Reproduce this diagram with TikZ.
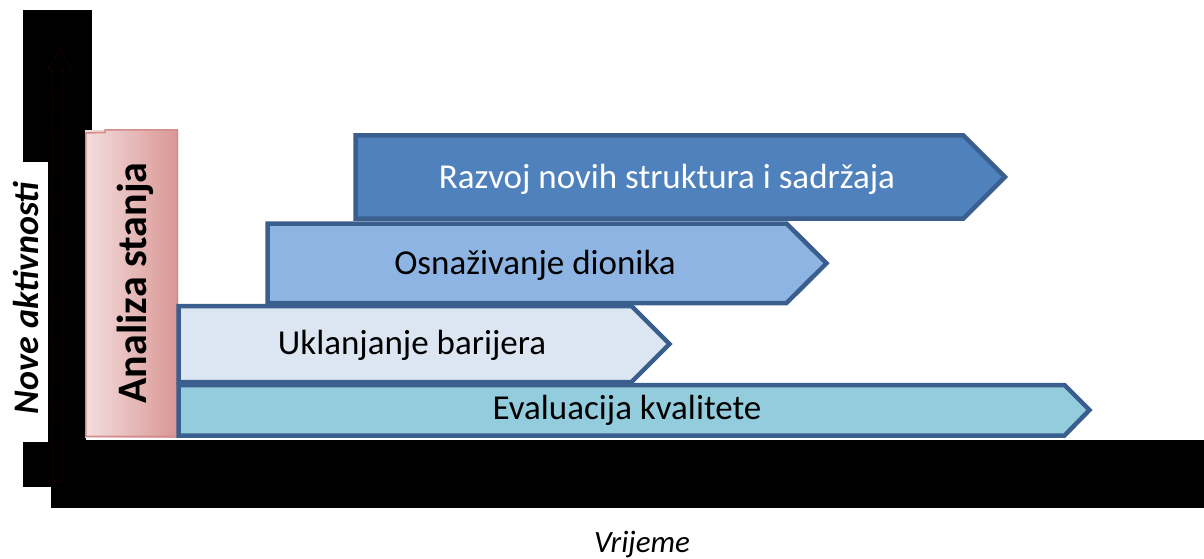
\documentclass[tikz,border=0pt]{standalone}
\usepackage{fontspec}
\setmainfont{Carlito}
\definecolor{bdr}{HTML}{3A5F8E}
\definecolor{razC}{HTML}{4F81BD}
\definecolor{osnC}{HTML}{8EB4E3}
\definecolor{ukoC}{HTML}{DCE6F2}
\definecolor{evaC}{HTML}{93CDDD}
\definecolor{pinkL}{HTML}{F3DFDE}
\definecolor{pinkD}{HTML}{D99694}
\definecolor{pinkB}{HTML}{D38C8A}
\definecolor{dred}{HTML}{5A0808}
\tikzset{
  blk/.style={fill=black},
  phase/.style={draw=bdr, line width=4.5pt, line join=miter},
  ptext/.style={font=\fontsize{35}{42}\selectfont, inner sep=0pt},
}
\begin{document}
\begin{tikzpicture}[x=1pt,y=-1pt]
\useasboundingbox (0,0) rectangle (1204,559);
% black axes
\fill[blk] (23,10) rectangle (92,162);
\fill[blk] (48,160) rectangle (86,445);
\fill[blk] (23,442) rectangle (60,487);
\fill[blk] (51,440) rectangle (1204,508);
% dotted axis arrow
\draw[dred, dotted, line width=0.6pt]
  (53,480) -- (53,70) -- (47,70) -- (59.5,49) -- (72,70) -- (62,70) -- (62,480) -- (58,484) -- cycle;
% pink box
\shade[left color=pinkL, right color=pinkD] (85,131) rectangle (178,437);
\draw[pinkB, line width=1.5pt] (85.75,133) -- (85.75,436.25) -- (177.25,436.25) -- (177.25,130) -- (105,130) -- (105,132.5) -- cycle;
\node[rotate=90, font=\bfseries\fontsize{42}{48}\selectfont, inner sep=0pt] (ana) at (135,283) {Analiza stanja};
% phases
\coordinate (evaL) at (178.5,385);
\draw[phase, fill=evaC] (evaL) -- (1064.5,385) -- (1089.5,410) -- (1064.5,435.5) -- (178.5,435.5) -- cycle;
\node[ptext] (eva) at (627,410) {Evaluacija kvalitete};
\draw[phase, fill=ukoC] (178.5,306) -- (631.5,306) -- (669.5,344) -- (631.5,382) -- (178.5,382) -- cycle;
\node[ptext] (uko) at (412,345) {Uklanjanje barijera};
\draw[phase, fill=osnC] (267.5,223.5) -- (786.5,223.5) -- (826.5,263.25) -- (786.5,303) -- (267.5,303) -- cycle;
\node[ptext] (osn) at (535,265) {Osnaživanje dionika};
\draw[phase, fill=razC] (355.5,135.5) -- (963.5,135.5) -- (1005,177) -- (963.5,218.5) -- (355.5,218.5) -- cycle;
\node[ptext, text=white] (raz) at (667,179) {Razvoj novih struktura i sadržaja};
% axis labels
\node[rotate=90, font=\bfseries\itshape\fontsize{36}{42}\selectfont, inner sep=0pt] (ya) at (26,298) {Nove aktivnosti};
\node[font=\itshape\fontsize{31}{36}\selectfont, inner sep=0pt] (xa) at (642,544) {Vrijeme};
\end{tikzpicture}
\end{document}
